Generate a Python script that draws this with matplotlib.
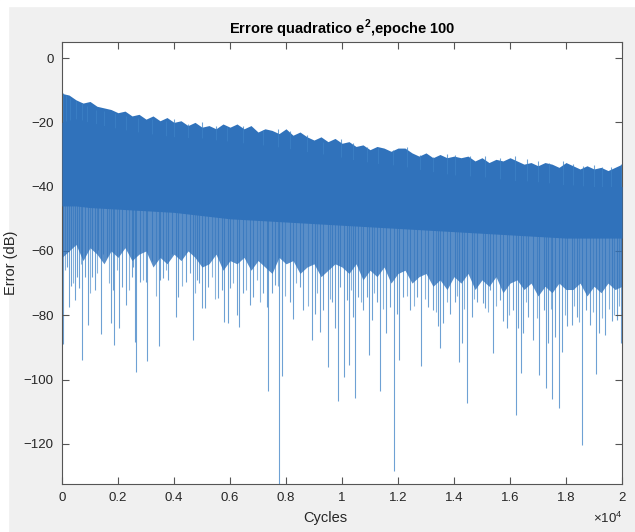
import numpy as np
import matplotlib.pyplot as plt
from matplotlib.patches import Rectangle

plt.rcParams['font.family'] = ['Liberation Sans', 'DejaVu Sans']
plt.rcParams['mathtext.fontset'] = 'custom'
plt.rcParams['mathtext.rm'] = 'Liberation Sans'
plt.rcParams['mathtext.bf'] = 'Liberation Sans:bold'

# solid part of the squared error band (dB) along the training cycles
env_cycles = [0, 500, 1000, 2000, 3000, 4000, 5000, 6000, 7000, 8000, 9000,
              10000, 11000, 12000, 13000, 14000, 15000, 16000, 17000, 18000,
              19000, 20000]
core_top = [-20, -19, -20, -22, -23.5, -24.5, -25, -26, -27, -28, -29.5,
            -31, -32.5, -33.5, -35, -36.5, -37, -38, -38.5, -39.5, -40, -40]
core_bottom = [-46, -46, -46.5, -47, -47.5, -48, -49, -50, -50.5, -51, -51.5,
               -52, -52.5, -53, -53.5, -54, -54.5, -55, -55.5, -56, -56, -56]

# ragged upper and lower edges, every 250 cycles
edge_cycles = np.arange(0, 20001, 250)
upper_edge = [-11, -11.5, -13, -14, -13.5, -15, -15.5, -16, -17,
              -16.5, -18, -17.5, -19, -18, -19.5, -18.5, -20,
              -19.5, -21, -20, -21.5, -21, -22, -20.5, -21.5,
              -20.5, -22, -21, -23, -22, -22.5, -23.5, -22,
              -24, -23, -24.5, -25.5, -24.5, -26, -25, -26.5,
              -26, -27.5, -27, -28.5, -27.5, -28, -29, -28,
              -28, -29.5, -30.5, -29.5, -31, -30, -31, -30.5,
              -31, -30.5, -32, -31, -32.5, -31.5, -32, -31,
              -32, -33, -32.5, -33.5, -32.5, -33, -34, -32.5,
              -33.5, -34.5, -33.5, -34.5, -34, -35, -34, -33]
lower_edge = [-62, -60, -58, -63, -59, -61, -64, -60, -62,
              -59, -63, -61, -60, -65, -62, -64, -61,
              -63, -60, -62, -65, -64, -61, -66, -63,
              -64, -62, -66, -63, -65, -67, -62, -64,
              -63, -67, -65, -64, -68, -66, -64, -65,
              -67, -64, -69, -66, -68, -65, -70, -67,
              -66, -70, -68, -67, -71, -69, -72, -68,
              -70, -67, -72, -69, -71, -68, -73, -70,
              -69, -72, -70, -74, -71, -73, -70, -72,
              -72, -70, -74, -71, -73, -70, -72, -71]

# upward error peaks
peak_cycles = [50, 150, 300, 500, 700, 900, 1200, 1500, 1900, 2300, 2700,
               3200, 3700, 4000, 4500, 5000, 5500, 5880, 6470, 7180, 7700,
               8140, 8760, 9330, 9950, 10400, 10880, 11300, 11810, 12330,
               12780, 13260, 13740, 14030, 14570, 15110, 15640, 16180, 16600,
               17000, 17400, 17880, 18250, 18610, 19000, 19280, 19600, 19960]
peak_db = [-11, -11.5, -12.5, -13.5, -14, -15, -16, -16.5, -17, -18, -18.5,
           -19, -19.5, -19, -20.5, -20, -21, -21.4, -21.1, -22.4, -22,
           -22.6, -23.9, -26, -25.3, -26.5, -27.8, -28, -28.5, -27.8,
           -30.2, -30.7, -29.9, -30.1, -30.6, -30.6, -31.1, -30.6, -31.5,
           -32.1, -32.5, -32.1, -33, -33.6, -33.2, -33.9, -34, -32.8]

# downward error dips
dip_cycles = [50, 167, 262, 310, 464, 524, 619, 727, 821, 916, 1060, 1180,
              1300, 1405, 1450, 1595, 1750, 1830, 1870, 2050, 2130, 2300,
              2490, 2550, 2620, 2655, 2785, 3000, 3050, 3200, 3475, 3500,
              3620, 3800, 3915, 4060, 4155, 4430, 4570, 4690, 4810, 4905,
              4990, 5106, 5225, 5583, 5700, 5785, 5940, 6000, 6240, 6330,
              6450, 6710, 6830, 7190, 7310, 7357, 7490, 7600, 7760, 7845,
              8140, 8260, 8500, 8620, 8940, 9030, 9214, 9330, 9490, 9630,
              9750, 9870, 9930, 10070, 10165, 10260, 10400, 10475, 10580,
              10760, 10880, 10975, 11060, 11240, 11355, 11570, 11710, 11845,
              11950, 12045, 12190, 12430, 12665, 12810, 13080, 13260, 13440,
              13510, 13620, 13855, 14035, 14190, 14280, 14450, 14630, 14810,
              15020, 15100, 15285, 15400, 15640, 15760, 15880, 16120, 16215,
              16300, 16400, 16480, 16660, 16830, 17045, 17200, 17285, 17370,
              17500, 17600, 17750, 17850, 18050, 18200, 18380, 18580, 18710,
              18855, 19060, 19180, 19390, 19630, 19810, 19950]
dip_db = [-88.9, -64.9, -77.3, -71, -75.2, -68, -71.6, -93.9, -68, -83,
          -68, -72, -59.7, -85.8, -61, -62, -82.4, -72.1, -89.2, -84, -71.1,
          -76.8, -68, -65, -88.2, -97.7, -69.6, -69.6, -94.1, -63, -89.7,
          -69, -68.5, -69, -61, -80.4, -74.2, -69.6, -67, -87.7, -69, -70,
          -77.7, -77.8, -71.1, -74.7, -72.1, -82, -82.3, -71.6, -79.9, -83.8,
          -73.2, -76.8, -74.2, -73.2, -77.3, -103.5, -73.2, -70.6, -132.5,
          -99, -75.8, -81.3, -71.1, -78.4, -87.7, -79.5, -85.1, -78.4, -96.2,
          -75.8, -84.1, -106.8, -71.1, -99.3, -75.2, -95.6, -80.4, -105.6,
          -74.2, -78.4, -74.2, -92.3, -81.5, -75.8, -103.7, -85.6, -77.3,
          -128.6, -79.5, -93.9, -74.2, -78.4, -74.2, -95.7, -77.3, -78.4,
          -83.3, -90.3, -82.5, -79.5, -75.8, -94.4, -88.7, -107.4, -80.4,
          -75.8, -76.3, -77.8, -72.1, -91.8, -75.2, -81.9, -84, -78.4,
          -111, -84, -98, -85.6, -80.4, -87.7, -98.5, -78.4, -102.7, -88.7,
          -106.1, -86.7, -108.9, -91.3, -83.5, -83, -80.4, -120.3, -78.4,
          -83, -98.3, -85.6, -86.1, -81.9, -81.4, -88.7]

# shorter dips crowding the lower side of the band
minor_dip_cycles = [100, 390, 680, 1000, 1250, 1680, 1980, 2400, 2900, 3350,
                    3700, 4270, 4750, 5350, 5480, 6120, 6580, 6950, 7070, 7700,
                    7950, 8370, 8780, 9120, 9560, 10330, 10690, 11140, 11460,
                    12320, 12560, 12950, 13370, 13750, 14100, 14370, 14720,
                    15200, 15500, 15950, 16580, 16950, 17450, 17950, 18300,
                    18480, 18950, 19280, 19520, 19720, 19880]
minor_dip_db = [-66, -70, -64, -73, -67, -70, -66, -72, -69, -74, -66, -71,
                -73, -68, -75, -70, -72, -69, -76, -71, -74, -70, -77, -73,
                -75, -72, -76, -73, -78, -74, -77, -75, -79, -76, -74, -78,
                -75, -79, -77, -80, -76, -81, -78, -80, -77, -82, -79, -81,
                -78, -80, -77]

x_ticks = np.arange(0, 20001, 2000)
x_tick_labels = ['0', '0.2', '0.4', '0.6', '0.8', '1', '1.2', '1.4', '1.6',
                 '1.8', '2']
y_ticks = np.arange(-120, 1, 20)

blue = '#3072bb'
line_blue = '#3d82c6'

fig = plt.figure(figsize=(6.35, 5.32), dpi=100, facecolor='#f0f0f0')
fig.patches.append(Rectangle((0, 1 - 6 / 532), 1, 6 / 532, transform=fig.transFigure,
                             color='white', zorder=-10))
fig.patches.append(Rectangle((0, 0), 8 / 635, 1, transform=fig.transFigure,
                             color='white', zorder=-10))
ax = fig.add_axes([62 / 635, 48 / 532, 560 / 635, 442 / 532])

# ragged fringes sit under the solid core
ax.vlines(dip_cycles, -45, dip_db, color=line_blue, lw=0.8, alpha=0.75, zorder=1)
ax.vlines(minor_dip_cycles, -45, minor_dip_db, color=line_blue, lw=0.8,
          alpha=0.6, zorder=1)
ax.fill_between(edge_cycles, lower_edge, -45, color=blue, alpha=0.8, lw=0,
                zorder=2)
ax.fill_between(edge_cycles, -45, upper_edge, color=blue, lw=0, zorder=2)
peak_base = np.interp(peak_cycles, env_cycles, core_top)
ax.vlines(peak_cycles, peak_base, peak_db, color=line_blue, lw=0.8, alpha=0.75,
          zorder=2)
ax.fill_between(env_cycles, core_bottom, core_top, color=blue, lw=0, zorder=3)

ax.set_xlim(0, 20000)
ax.set_ylim(-132.5, 5)
ax.set_xticks(x_ticks)
ax.set_xticklabels(x_tick_labels)
ax.set_yticks(y_ticks)
ax.tick_params(direction='in', length=5, width=0.8, color='#555555',
               labelsize=9.5, labelcolor='#262626', top=True, right=True,
               pad=6)
for side in ax.spines.values():
    side.set_color('#555555')
    side.set_linewidth(0.8)

ax.set_title(r'Errore quadratico e$^\mathbf{2}$,epoche 100', fontsize=10.5,
             fontweight='bold', color='black', pad=6)
ax.set_ylabel('Error (dB)', fontsize=10.5, color='#262626')
fig.text(325 / 635, 1 - 518 / 532, 'Cycles', fontsize=10.5, color='#262626',
         ha='center', va='center')
fig.text(622 / 635, 1 - 518 / 532, r'$\times$10$^4$', fontsize=9.5,
         color='#262626', ha='right', va='center')

fig.savefig('out.png', dpi=100, facecolor=fig.get_facecolor())
